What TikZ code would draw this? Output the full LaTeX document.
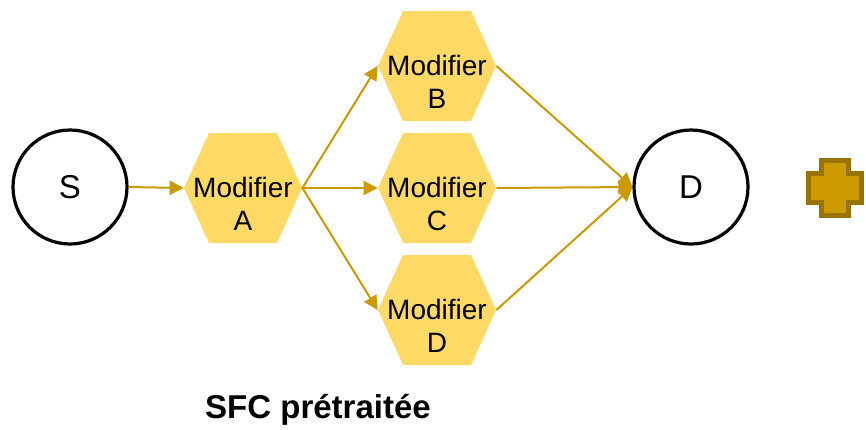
\documentclass[tikz,border=0pt]{standalone}
\usepackage{fontspec}
\setmainfont{Liberation Sans}
\usetikzlibrary{arrows.meta}
\definecolor{arrowgold}{HTML}{CC9900}
\definecolor{hexgold}{HTML}{FFD966}
\definecolor{plusedge}{HTML}{997300}
\tikzset{
  endpoint/.style={circle, draw=black, line width=1.6pt, minimum size=57pt, inner sep=0pt,
    font=\fontsize{16.5}{19}\selectfont},
  hexbox/.style={minimum width=59pt, minimum height=55pt, inner sep=0pt,
    path picture={\fill[hexgold] (path picture bounding box.west)
      -- ([xshift=12.5pt]path picture bounding box.north west)
      -- ([xshift=-12.5pt]path picture bounding box.north east)
      -- (path picture bounding box.east)
      -- ([xshift=-12.5pt]path picture bounding box.south east)
      -- ([xshift=12.5pt]path picture bounding box.south west) -- cycle;}},
  hextext/.style={align=center, font=\fontsize{14}{16.5}\selectfont, yshift=-8pt},
  flow/.style={-{Triangle[length=7pt, width=7pt]}, line width=1pt, draw=arrowgold},
  pics/goldplus/.style={code={
    \draw[plusedge, fill=arrowgold, line width=2.5pt, line join=miter]
      (-13.5,-27.5) -- (13.5,-27.5) -- (13.5,-14.5) -- (26.5,-14.5) -- (26.5,14.5)
      -- (13.5,14.5) -- (13.5,27.5) -- (-13.5,27.5) -- (-13.5,14.5) -- (-26.5,14.5)
      -- (-26.5,-14.5) -- (-13.5,-14.5) -- cycle;}},
}
\begin{document}
\begin{tikzpicture}[x=0.5pt, y=-0.5pt]
\useasboundingbox (0,0) rectangle (866,429);
% source and destination
\node[endpoint] (src) at (70,187) {S};
\node[endpoint] (dst) at (691,187) {D};
% modifiers
\node[hexbox, label={[hextext]center:Modifier\\A}] (modA) at (243,188) {};
\node[hexbox, label={[hextext]center:Modifier\\B}] (modB) at (437,66) {};
\node[hexbox, label={[hextext]center:Modifier\\C}] (modC) at (437,188) {};
\node[hexbox, label={[hextext]center:Modifier\\D}] (modD) at (437,310) {};
% flows
\draw[flow] (src.east) -- (modA.west);
\foreach \m in {modB,modC,modD} {
  \draw[flow] (modA.east) -- (\m.west);
  \draw[flow] (\m.east) -- (dst.west);
}
\pic at (835,188) {goldplus};
% caption
\node[font=\fontsize{16.5}{19}\selectfont\bfseries] (title) at (318,410) {SFC prétraitée};
\end{tikzpicture}
\end{document}
